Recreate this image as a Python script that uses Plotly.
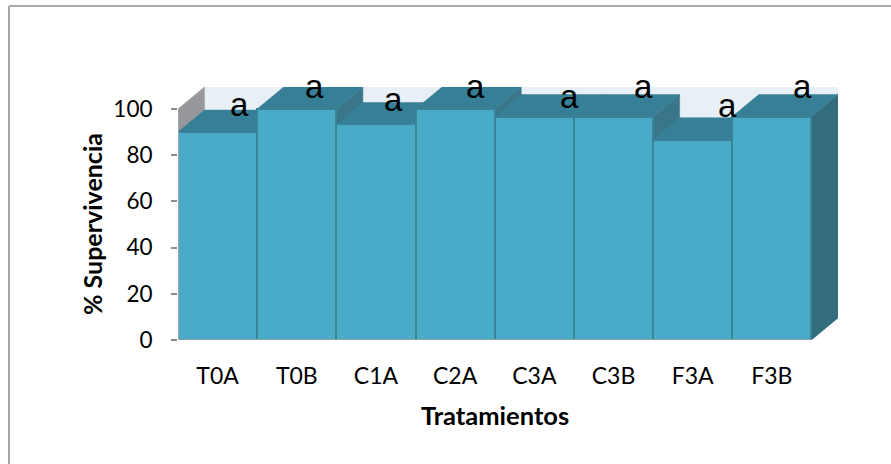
import plotly.graph_objects as go

categories = ["T0A", "T0B", "C1A", "C2A", "C3A", "C3B", "F3A", "F3B"]
supervivencia = [90, 100, 93.3, 100, 96.7, 96.7, 86.7, 96.7]
letters = ["a"] * 8
tick_values = [0, 20, 40, 60, 80, 100]
x_title = "Tratamientos"
y_title = "% Supervivencia"
# letter placement relative to each bar (category units, value units)
letter_dx = [0.28, 0.22, 0.22, 0.26, 0.45, 0.38, 0.44, 0.39]
letter_y = [101.5, 109.5, 103.7, 109.5, 105, 109.5, 101, 109.5]

W, H = 891, 464
L, R, T, B = 178, 838, 87, 340
DX = 0.335     # depth in category units
DY = 9.5       # depth in value units
FRONT, TOP, SIDE, SIDE_IN, EDGE = "#48ABC7", "#367F96", "#336C7D", "#3A7689", "#3A8297"
WALL, LEFTWALL = "#E8EFF5", "#96989C"
AXIS = "#A6A6A6"
xmin, xmax = -0.5, len(categories) - 0.5 + DX
ymax = max(supervivencia) + DY


def poly(xs, ys, color):
    return go.Scatter(x=xs, y=ys, mode="lines", fill="toself", fillcolor=color,
                      line=dict(color=color, width=0.5), hoverinfo="skip",
                      showlegend=False, xaxis="x", yaxis="y")


fig = go.Figure()
# back wall and left wall
fig.add_trace(poly([xmin + DX, xmax, xmax, xmin + DX], [DY, DY, ymax, ymax], WALL))
fig.add_trace(poly([xmin, xmin + DX, xmin + DX, xmin], [0, DY, ymax, 100], LEFTWALL))
# side and top faces, left to right
n = len(categories)
for i, h in enumerate(supervivencia):
    a, b = i - 0.5, i + 0.5
    fig.add_trace(poly([b, b + DX, b + DX, b], [0, DY, h + DY, h], SIDE if i == n - 1 else SIDE_IN))
    fig.add_trace(poly([a, a + DX, b + DX, b], [h, h + DY, h + DY, h], TOP))
# front faces
fig.add_trace(go.Bar(x=list(range(n)), y=supervivencia, width=1,
                     marker=dict(color=FRONT, line=dict(color=EDGE, width=2)),
                     xaxis="x2", yaxis="y2", showlegend=False, hoverinfo="skip"))

annotations = [
    dict(x=i + letter_dx[i], y=letter_y[i], text=t, xref="x2", yref="y2", showarrow=False,
         xanchor="center", yanchor="middle", yshift=1,
         font=dict(family="Liberation Sans", size=33, color="#000000"))
    for i, t in enumerate(letters)
]
annotations += [
    dict(x=(495 - L) / (R - L), y=(B - 415) / (B - T), xref="paper", yref="paper",
         text=f"<b>{x_title}</b>", showarrow=False, xanchor="center", yanchor="middle",
         font=dict(family="Lato", size=25.5, color="#000000")),
    dict(x=(92 - L) / (R - L), y=(B - 224) / (B - T), xref="paper", yref="paper",
         text=f"<b>{y_title}</b>", textangle=-90, showarrow=False, xanchor="center", yanchor="middle",
         font=dict(family="Lato", size=25, color="#000000")),
]

fx0 = -(L - 9) / (R - L)
fy1 = 1 + (T - 6) / (B - T)
shapes = [
    dict(type="line", xref="paper", yref="paper", x0=fx0, x1=(W - L) / (R - L), y0=fy1, y1=fy1,
         line=dict(color="#8C8C8C", width=1.5)),
    dict(type="line", xref="paper", yref="paper", x0=fx0, x1=fx0, y0=fy1, y1=-(H - B) / (B - T),
         line=dict(color=AXIS, width=2)),
    dict(type="line", xref="x2", yref="y2", x0=xmin, x1=n - 0.5, y0=0, y1=0,
         line=dict(color=AXIS, width=1.5), layer="above"),
    dict(type="line", xref="x2", yref="y2", x0=xmin, x1=xmin, y0=0, y1=100,
         line=dict(color=AXIS, width=2), layer="above"),
]

fig.update_layout(
    width=W, height=H, autosize=False,
    margin=dict(l=L, r=W - R, t=T, b=H - B),
    paper_bgcolor="white", plot_bgcolor="white",
    bargap=0, showlegend=False,
    shapes=shapes, annotations=annotations,
    font=dict(family="Lato", color="#000000"),
    xaxis=dict(range=[xmin, xmax], tickmode="array",
               tickvals=list(range(n)), ticktext=categories,
               tickfont=dict(size=23), ticks="", ticklabelstandoff=20, showgrid=False, zeroline=False,
               showline=False, automargin=False),
    yaxis=dict(range=[0, ymax], tickmode="array", tickvals=tick_values,
               tickfont=dict(size=22.5), ticks="outside", ticklen=6, tickcolor="#8C8C8C", tickwidth=1.5,
               ticklabelstandoff=14, showgrid=False, zeroline=False, showline=False,
               automargin=False),
    xaxis2=dict(range=[xmin, xmax], overlaying="x", visible=False),
    yaxis2=dict(range=[0, ymax], overlaying="y", visible=False),
)
fig.write_html("out.html", config={"displayModeBar": False},
               post_script="document.body.style.margin='0';window.dispatchEvent(new Event('resize'));")
